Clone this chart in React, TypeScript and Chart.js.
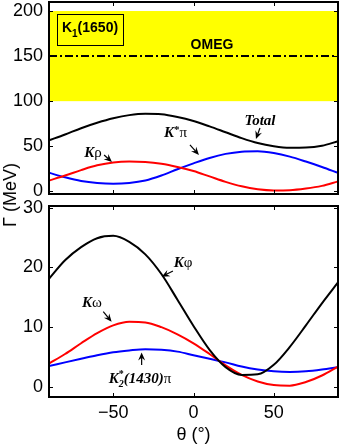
import React, { useEffect, useRef } from "react";
import { Chart, registerables } from "chart.js";
Chart.register(...registerables);

// ---------- data ----------
const theta = [-90, -80, -70, -60, -50, -40, -30, -20, -10, 0, 10, 20, 30, 40, 50, 60, 70, 80, 90];
// top panel (K1(1650))
const totalWidth = [56.5, 63, 70, 76, 81, 84.5, 86, 85.5, 82.5, 78, 72, 65.5, 59, 53.5, 50, 48.3, 48.5, 50.5, 55.5];
const kRho = [12, 17.5, 23.5, 28.8, 32, 33, 32.5, 30.5, 27, 22.5, 16.5, 10.5, 5.5, 2.3, 1, 1.2, 3, 6, 11];
const kStarPi = [20.5, 15.5, 11.5, 9.3, 8.5, 9.3, 12, 17.5, 24.5, 31, 37, 41.5, 44, 44.5, 42.5, 38.5, 33, 27, 20.5];
// bottom panel
const kPhi = [18.1, 21.2, 23.4, 24.9, 25.3, 24.3, 22.2, 18.9, 14.6, 10.2, 6.2, 3.3, 2.0, 2.1, 3.7, 6.7, 10.3, 14, 17.5];
const kOmega = [3.9, 5.5, 7.3, 9, 10.3, 10.9, 10.8, 10, 8.8, 7.3, 5.5, 3.6, 2, 0.9, 0.3, 0.2, 0.8, 1.9, 3.4];
const k2StarPi = [3.5, 4.1, 4.7, 5.3, 5.8, 6.1, 6.3, 6.2, 5.9, 5.3, 4.7, 4.1, 3.4, 2.9, 2.6, 2.5, 2.6, 2.9, 3.3];
// experimental band (OMEG)
const omegRange = [100, 200];
const omegCentral = 150;
// ticks
const xTicks = [-50, 0, 50];
const topYTicks = [0, 50, 100, 150, 200];
const bottomYTicks = [0, 10, 20, 30];

// ---------- styles ----------
const SANS = '"Liberation Sans", Arial, Helvetica, sans-serif';
const SERIF = '"Liberation Serif", "Times New Roman", serif';
const KI = `italic bold 15px ${SERIF}`;
const GR = `15px ${SERIF}`;

type Run = { t: string; font: string; dy?: number; stack?: boolean };
type Note = { runs: Run[]; x: number; y: number; tail: [number, number]; tip: [number, number] };

const topNotes: Note[] = [
  { runs: [{ t: "K", font: KI }, { t: "ρ", font: GR }], x: -62.6, y: 38, tail: [-55.7, 40.3], tip: [-50.8, 32.5] },
  {
    runs: [{ t: "K", font: KI }, { t: "*", font: `bold 11px ${SERIF}`, dy: -4 }, { t: "π", font: GR }],
    x: -11.2, y: 60.2, tail: [-2.2, 51.4], tip: [3.4, 40.3],
  },
  { runs: [{ t: "Total", font: KI }], x: 41.4, y: 73.5, tail: [41.4, 70.2], tip: [38.9, 58] },
];
const bottomNotes: Note[] = [
  { runs: [{ t: "K", font: KI }, { t: "φ", font: GR }], x: -6.5, y: 20.1, tail: [-12.8, 19.4], tip: [-19.8, 18.46] },
  { runs: [{ t: "K", font: KI }, { t: "ω", font: GR }], x: -63.2, y: 13.4, tail: [-56.2, 12.6], tip: [-51, 10.9] },
  {
    runs: [
      { t: "K", font: KI },
      { t: "*", font: `bold 10px ${SERIF}`, dy: -6, stack: true },
      { t: "2", font: `italic bold 10px ${SERIF}`, dy: 4 },
      { t: "(1430)", font: KI },
      { t: "π", font: GR },
    ],
    x: -33.3, y: 0.65, tail: [-32.3, 3.66], tip: [-32.3, 5.76],
  },
];

function drawRuns(ctx: CanvasRenderingContext2D, runs: Run[], cx: number, by: number) {
  const items: { r: Run; x: number }[] = [];
  let x = 0;
  let i = 0;
  while (i < runs.length) {
    const r = runs[i];
    ctx.font = r.font;
    const w = ctx.measureText(r.t).width;
    if (r.stack && i + 1 < runs.length) {
      const r2 = runs[i + 1];
      ctx.font = r2.font;
      const w2 = ctx.measureText(r2.t).width;
      items.push({ r, x }, { r: r2, x });
      x += Math.max(w, w2);
      i += 2;
    } else {
      items.push({ r, x });
      x += w;
      i += 1;
    }
  }
  const start = cx - x / 2;
  ctx.textAlign = "left";
  ctx.textBaseline = "alphabetic";
  ctx.fillStyle = "#000";
  for (const it of items) {
    ctx.font = it.r.font;
    ctx.fillText(it.r.t, start + it.x, by + (it.r.dy || 0));
  }
}

function drawArrow(ctx: CanvasRenderingContext2D, x1: number, y1: number, x2: number, y2: number) {
  const ang = Math.atan2(y2 - y1, x2 - x1);
  const c = Math.cos(ang), s = Math.sin(ang);
  const L = 8, W = 3.5;
  ctx.strokeStyle = "#000";
  ctx.fillStyle = "#000";
  ctx.lineWidth = 1.2;
  ctx.setLineDash([]);
  ctx.beginPath();
  ctx.moveTo(x1, y1);
  ctx.lineTo(x2 - c * L * 0.6, y2 - s * L * 0.6);
  ctx.stroke();
  const bx = x2 - c * L, by = y2 - s * L;
  const mx = x2 - c * L * 0.65, my = y2 - s * L * 0.65;
  ctx.beginPath();
  ctx.moveTo(x2, y2);
  ctx.lineTo(bx - s * W, by + c * W);
  ctx.lineTo(mx, my);
  ctx.lineTo(bx + s * W, by - c * W);
  ctx.closePath();
  ctx.fill();
}

function framePlugin(yTicks: number[]) {
  return {
    id: "frameTicks",
    afterDatasetsDraw(chart: any) {
      const { ctx, chartArea: a, scales } = chart;
      const xs = scales.x, ys = scales.y;
      ctx.save();
      ctx.strokeStyle = "#000";
      ctx.lineWidth = 1;
      ctx.setLineDash([]);
      const tl = 4;
      ctx.beginPath();
      for (const v of xTicks) {
        const px = Math.round(xs.getPixelForValue(v)) + 0.5;
        ctx.moveTo(px, a.bottom);
        ctx.lineTo(px, a.bottom - tl);
        ctx.moveTo(px, a.top);
        ctx.lineTo(px, a.top + tl);
      }
      for (const v of yTicks) {
        const py = Math.round(ys.getPixelForValue(v)) + 0.5;
        ctx.moveTo(a.left, py);
        ctx.lineTo(a.left + tl, py);
        ctx.moveTo(a.right, py);
        ctx.lineTo(a.right - tl, py);
      }
      ctx.stroke();
      ctx.lineWidth = 2;
      ctx.strokeRect(a.left, a.top, a.right - a.left, a.bottom - a.top);
      ctx.restore();
    },
  };
}

function notesPlugin(notes: Note[], extra?: (chart: any) => void) {
  return {
    id: "notes",
    afterDraw(chart: any) {
      const { ctx, scales } = chart;
      const xs = scales.x, ys = scales.y;
      ctx.save();
      if (extra) extra(chart);
      for (const n of notes) {
        drawRuns(ctx, n.runs, xs.getPixelForValue(n.x), ys.getPixelForValue(n.y));
        drawArrow(
          ctx,
          xs.getPixelForValue(n.tail[0]), ys.getPixelForValue(n.tail[1]),
          xs.getPixelForValue(n.tip[0]), ys.getPixelForValue(n.tip[1])
        );
      }
      ctx.restore();
    },
  };
}

const bandPlugin = {
  id: "omegBand",
  beforeDatasetsDraw(chart: any) {
    const { ctx, chartArea: a, scales } = chart;
    const ys = scales.y;
    const yTop = ys.getPixelForValue(omegRange[1]);
    const yBot = ys.getPixelForValue(omegRange[0]);
    ctx.save();
    ctx.fillStyle = "#ffff00";
    ctx.fillRect(a.left, yTop, a.right - a.left, yBot - yTop);
    const yc = ys.getPixelForValue(omegCentral);
    ctx.strokeStyle = "#000";
    ctx.lineWidth = 2;
    ctx.setLineDash([8, 3, 2, 3]);
    ctx.beginPath();
    ctx.moveTo(a.left, yc);
    ctx.lineTo(a.right, yc);
    ctx.stroke();
    ctx.restore();
  },
};

function topExtra(chart: any) {
  const { ctx, scales } = chart;
  const xs = scales.x, ys = scales.y;
  // K1(1650) label box
  const x1 = xs.getPixelForValue(-85), x2 = xs.getPixelForValue(-43.9);
  const y1 = ys.getPixelForValue(196.7), y2 = ys.getPixelForValue(162.3);
  ctx.strokeStyle = "#000";
  ctx.lineWidth = 1;
  ctx.setLineDash([]);
  ctx.strokeRect(Math.round(x1) + 0.5, Math.round(y1) + 0.5, Math.round(x2 - x1), Math.round(y2 - y1));
  drawRuns(
    ctx,
    [
      { t: "K", font: `bold 14px ${SANS}` },
      { t: "1", font: `bold 10px ${SANS}`, dy: 5 },
      { t: "(1650)", font: `bold 14px ${SANS}` },
    ],
    (x1 + x2) / 2,
    ys.getPixelForValue(176.7)
  );
  drawRuns(ctx, [{ t: "OMEG", font: `bold 14px ${SANS}` }], xs.getPixelForValue(11.5), ys.getPixelForValue(157.9));
}

function series(vals: number[], color: string) {
  return {
    data: theta.map((t, i) => ({ x: t, y: vals[i] })),
    borderColor: color,
    borderWidth: 2,
    pointRadius: 0,
    cubicInterpolationMode: "monotone",
    fill: false,
  };
}

const tickFont = { family: SANS, size: 18 };
const fmt = (v: any) => String(v).replace("-", "\u2212");
const noPad = (s: any) => {
  s.paddingTop = 0;
  s.paddingBottom = 0;
  s.paddingLeft = 0;
  s.paddingRight = 0;
};

function yScale(min: number, max: number, ticks: number[]) {
  return {
    min,
    max,
    afterFit: (s: any) => { s.width = 49; noPad(s); },
    afterBuildTicks: (s: any) => { s.ticks = ticks.map((v) => ({ value: v })); },
    grid: { display: false, drawTicks: false },
    border: { display: false },
    ticks: { color: "#000", font: tickFont, padding: 6, callback: fmt },
  };
}

export default function App() {
  const topRef = useRef<HTMLCanvasElement>(null);
  const botRef = useRef<HTMLCanvasElement>(null);

  useEffect(() => {
    const c1 = new Chart(topRef.current as HTMLCanvasElement, {
      type: "line",
      data: {
        datasets: [series(totalWidth, "#000000"), series(kRho, "#ff0000"), series(kStarPi, "#0000ff")] as any,
      },
      options: {
        animation: false,
        responsive: false,
        maintainAspectRatio: false,
        layout: { padding: { top: 2, right: 4, left: 0, bottom: 0 } },
        plugins: { legend: { display: false }, tooltip: { enabled: false } },
        scales: {
          x: {
            type: "linear",
            min: -90,
            max: 90,
            afterFit: (s: any) => { s.height = 6; noPad(s); },
            ticks: { display: false },
            grid: { display: false, drawTicks: false },
            border: { display: false },
          },
          y: yScale(-3, 210, topYTicks),
        },
      } as any,
      plugins: [bandPlugin, framePlugin(topYTicks), notesPlugin(topNotes, topExtra)],
    });

    const c2 = new Chart(botRef.current as HTMLCanvasElement, {
      type: "line",
      data: {
        datasets: [series(kPhi, "#000000"), series(kOmega, "#ff0000"), series(k2StarPi, "#0000ff")] as any,
      },
      options: {
        animation: false,
        responsive: false,
        maintainAspectRatio: false,
        layout: { padding: { top: 6, right: 4, left: 0, bottom: 0 } },
        plugins: { legend: { display: false }, tooltip: { enabled: false } },
        scales: {
          x: {
            type: "linear",
            min: -90,
            max: 90,
            afterFit: (s: any) => { s.height = 50; noPad(s); },
            afterBuildTicks: (s: any) => { s.ticks = xTicks.map((v) => ({ value: v })); },
            grid: { display: false, drawTicks: false },
            border: { display: false },
            ticks: { color: "#000", font: tickFont, padding: 5, maxRotation: 0, autoSkip: false, callback: fmt },
            title: { display: true, text: "θ (°)", color: "#000", font: { family: SANS, size: 18 }, padding: { top: 0, bottom: 1 } },
          },
          y: yScale(-1.7, 30.3, bottomYTicks),
        },
      } as any,
      plugins: [framePlugin(bottomYTicks), notesPlugin(bottomNotes)],
    });

    return () => {
      c1.destroy();
      c2.destroy();
    };
  }, []);

  return (
    <div style={{ position: "absolute", left: 0, top: 0, width: 342, height: 447, background: "#fff", overflow: "hidden" }}>
      <canvas ref={topRef} width={342} height={200} style={{ position: "absolute", left: 0, top: 0, width: 342, height: 200 }} />
      <canvas ref={botRef} width={342} height={247} style={{ position: "absolute", left: 0, top: 200, width: 342, height: 247 }} />
      <div
        style={{
          position: "absolute",
          left: 10,
          top: 195,
          transform: "translate(-50%, -50%) rotate(-90deg)",
          fontFamily: SANS,
          fontSize: 18,
          lineHeight: "18px",
          whiteSpace: "nowrap",
          color: "#000",
        }}
      >
        Γ (MeV)
      </div>
    </div>
  );
}
